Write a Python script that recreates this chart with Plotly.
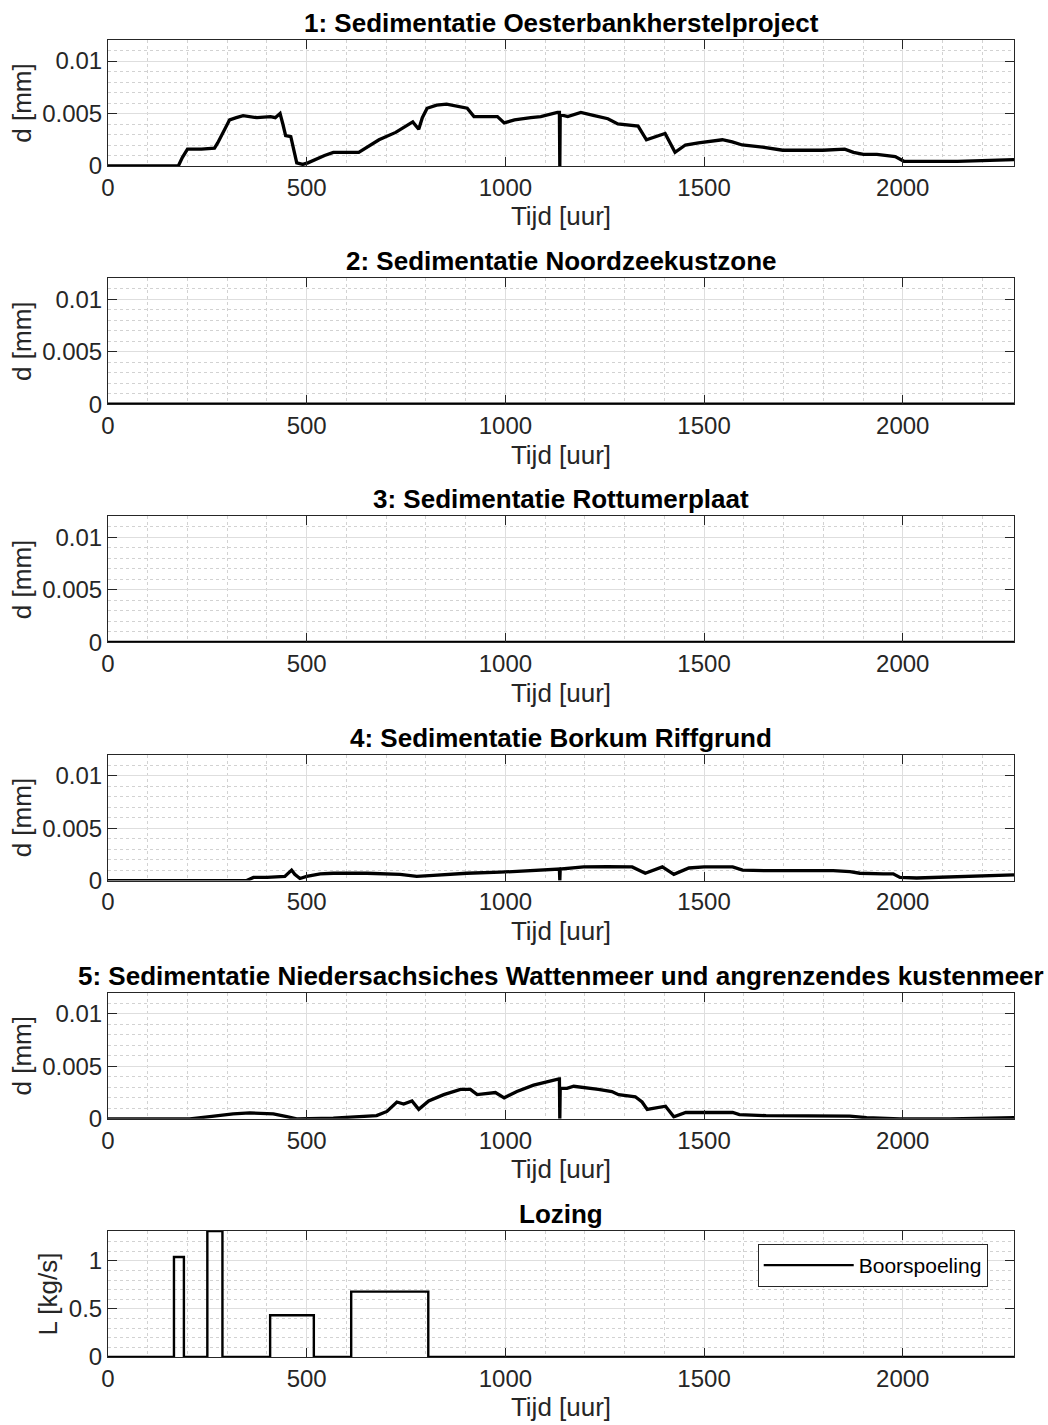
import plotly.graph_objects as go

# ---------------- data ----------------
TMAX = 2280

titles = [
    "1: Sedimentatie Oesterbankherstelproject",
    "2: Sedimentatie Noordzeekustzone",
    "3: Sedimentatie Rottumerplaat",
    "4: Sedimentatie Borkum Riffgrund",
    "5: Sedimentatie Niedersachsiches Wattenmeer und angrenzendes kustenmeer",
    "Lozing",
]

t1 = [0, 177, 187, 200, 235, 268, 276, 289, 306, 323, 340, 375, 409, 421, 433, 440, 447, 460,
      467, 475, 490, 503, 545, 567, 631, 648, 682, 724, 750, 767, 782, 791, 803, 827, 852, 904,
      921, 980, 997, 1023, 1064, 1089, 1131, 1136, 1137, 1138, 1157, 1190, 1224, 1258, 1283,
      1334, 1355, 1376, 1402, 1427, 1453, 1486, 1546, 1571, 1596, 1647, 1698, 1799, 1854, 1876,
      1901, 1935, 1960, 1981, 2003, 2138, 2280]
d1 = [0, 0, 0.0008, 0.0016, 0.0016, 0.0017, 0.0022, 0.0031, 0.0044, 0.0046, 0.0048, 0.0046,
      0.0047, 0.0046, 0.0050, 0.0040, 0.0029, 0.0028, 0.0015, 0.0003, 0.00015, 0.0003, 0.0010,
      0.0013, 0.0013, 0.0017, 0.0025, 0.0032, 0.0038, 0.0042, 0.0035, 0.0046, 0.0055, 0.0058,
      0.0059, 0.0055, 0.0047, 0.0047, 0.0041, 0.0044, 0.0046, 0.0047, 0.0051, 0.0051, 0.0,
      0.0049, 0.0047, 0.0051, 0.0048, 0.0045, 0.0040, 0.0038, 0.0025, 0.0028, 0.0031, 0.0013,
      0.0020, 0.0022, 0.0025, 0.0023, 0.0020, 0.0018, 0.0015, 0.0015, 0.0016, 0.0013, 0.0011,
      0.0011, 0.0010, 0.0009, 0.00045, 0.00045, 0.0006]

t2 = [0, 2280]
d2 = [0, 0]

t3 = [0, 2280]
d3 = [0, 0]

t4 = [0, 349, 366, 400, 445, 455, 462, 470, 483, 500, 534, 567, 651, 735, 777, 819, 903, 987,
      1130, 1136, 1137, 1138, 1197, 1256, 1319, 1352, 1395, 1424, 1462, 1500, 1572, 1597, 1656,
      1825, 1867, 1892, 1951, 1976, 1993, 2035, 2280]
d4 = [0, 0, 0.0003, 0.0003, 0.0004, 0.0008, 0.0010, 0.0006, 0.0002, 0.0004, 0.00064, 0.0007,
      0.0007, 0.0006, 0.0004, 0.0005, 0.0007, 0.0008, 0.0011, 0.0011, 0.0, 0.0011, 0.0013,
      0.00134, 0.0013, 0.0007, 0.0013, 0.0006, 0.0012, 0.0013, 0.0013, 0.0010, 0.00095, 0.00095,
      0.00085, 0.0007, 0.00064, 0.00064, 0.0003, 0.00025, 0.00055]

t5 = [0, 206, 256, 315, 357, 416, 450, 475, 567, 676, 702, 727, 744, 765, 782, 807, 845, 887,
      912, 929, 975, 997, 1029, 1071, 1135, 1136, 1137, 1138, 1155, 1172, 1234, 1268, 1285,
      1327, 1344, 1357, 1403, 1424, 1454, 1500, 1572, 1589, 1656, 1867, 1909, 1993, 2119, 2280]
d5 = [0, 0, 0.0002, 0.00047, 0.00056, 0.00047, 0.0002, 0, 0.00006, 0.0003, 0.0007, 0.0016,
      0.0014, 0.0017, 0.0009, 0.0017, 0.0023, 0.0028, 0.0028, 0.0023, 0.0025, 0.0020, 0.0026,
      0.0032, 0.0038, 0.0038, 0.0, 0.0029, 0.0029, 0.0031, 0.0028, 0.0026, 0.0023, 0.0021,
      0.0016, 0.0009, 0.0012, 0.0002, 0.0006, 0.0006, 0.0006, 0.0004, 0.0003, 0.00025, 0.0001,
      0, 0, 0.0001]

# discharge pulses (Boorspoeling)
pulse_start = [166, 250, 408, 612]
pulse_end = [191, 288, 518, 806]
pulse_level = [1.04, 1.31, 0.434, 0.68]

series = [(t1, d1), (t2, d2), (t3, d3), (t4, d4), (t5, d5)]

# build step line from pulses
lx, ly = [0], [0]
for s, e, lv in zip(pulse_start, pulse_end, pulse_level):
    lx += [s, s, e, e]
    ly += [0, lv, lv, 0]
lx.append(TMAX)
ly.append(0)

# ---------------- layout ----------------
W, H = 1048, 1425
ML, MR = 108, 34
TOP0, STEP, AH = 40, 238.2, 126
FONT = "Liberation Sans, Arial, Helvetica, sans-serif"
AX = "#262626"

fig = go.Figure()

for k in range(6):
    sx = "x" if k == 0 else f"x{k+1}"
    sy = "y" if k == 0 else f"y{k+1}"
    if k < 5:
        tx, dy = series[k]
        fig.add_trace(go.Scatter(x=tx, y=dy, mode="lines", xaxis=sx, yaxis=sy,
                                 line=dict(color="black", width=3.3), showlegend=False,
                                 hoverinfo="skip"))
    else:
        fig.add_trace(go.Scatter(x=lx, y=ly, mode="lines", xaxis=sx, yaxis=sy,
                                 line=dict(color="black", width=2.4), name="Boorspoeling",
                                 showlegend=True))

annotations = []
for k in range(6):
    top = TOP0 + STEP * k
    bot = top + AH
    dom = [1 - bot / H, 1 - top / H]
    xk = "xaxis" if k == 0 else f"xaxis{k+1}"
    yk = "yaxis" if k == 0 else f"yaxis{k+1}"
    yref = "y" if k == 0 else f"y{k+1}"
    xref = "x" if k == 0 else f"x{k+1}"
    fig.layout[xk] = dict(
        domain=[0, 1], anchor=yref, range=[0, TMAX],
        tick0=0, dtick=500, ticks="inside", ticklen=9, tickcolor=AX, tickwidth=1,
        showline=True, linecolor=AX, linewidth=1, mirror="ticks",
        showgrid=True, gridcolor="#dedede", gridwidth=1, zeroline=False,
        minor=dict(dtick=100, tick0=0, showgrid=True, gridcolor="#d2d2d2", griddash="dot",
                   gridwidth=1),
        tickfont=dict(family=FONT, size=24, color=AX),
        title=dict(text="Tijd [uur]", font=dict(family=FONT, size=26, color=AX), standoff=7),
        automargin=False,
    )
    if k < 5:
        yr, ydt, ymin, ytitle = [0, 0.012], 0.005, 0.001, "d [mm]"
    else:
        yr, ydt, ymin, ytitle = [0, 1.31], 0.5, 0.1, "L [kg/s]"
    fig.layout[yk] = dict(
        domain=dom, anchor=xref, range=yr,
        tick0=0, dtick=ydt, ticks="inside", ticklen=9, tickcolor=AX, tickwidth=1,
        showline=True, linecolor=AX, linewidth=1, mirror="ticks",
        showgrid=True, gridcolor="#dedede", gridwidth=1, zeroline=False,
        minor=dict(dtick=ymin, tick0=0, showgrid=True, gridcolor="#d2d2d2", griddash="dot",
                   gridwidth=1),
        tickfont=dict(family=FONT, size=24, color=AX),
        title=dict(text=ytitle, font=dict(family=FONT, size=26, color=AX), standoff=3),
        automargin=False,
    )
    annotations.append(dict(
        text="<b>" + titles[k] + "</b>", xref="paper", yref="paper",
        x=0.5, y=dom[1], xanchor="center", yanchor="bottom", showarrow=False,
        font=dict(family=FONT, size=26, color="black"),
    ))

fig.update_layout(
    width=W, height=H,
    margin=dict(l=ML, r=MR, t=0, b=0),
    paper_bgcolor="white", plot_bgcolor="white",
    annotations=annotations,
    showlegend=True,
    legend=dict(
        x=0.971, xanchor="right", y=1 - 1244 / H, yanchor="top",
        bgcolor="white", bordercolor=AX, borderwidth=1,
        font=dict(family=FONT, size=21, color="black"),
        itemwidth=90,
    ),
)

fig.write_html("out.html")
